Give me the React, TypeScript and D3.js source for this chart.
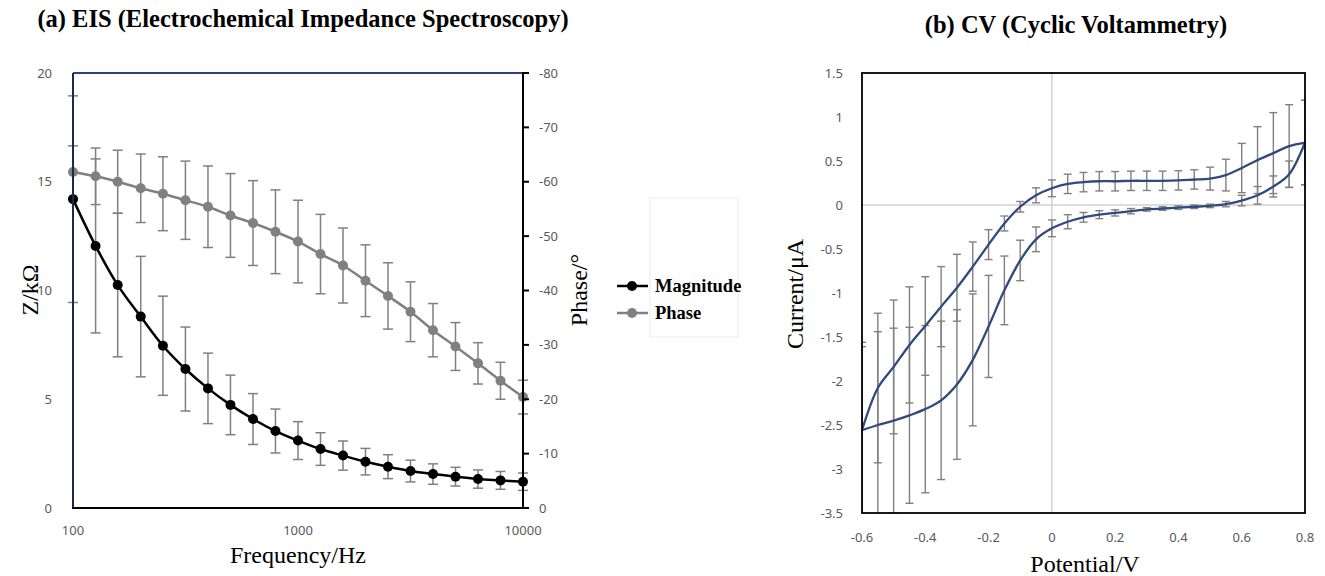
import React from "react";
import * as d3 from "d3";

// EIS data (5 points per decade)
const freqs = [100, 126, 158, 200, 251, 316, 398, 501, 631, 794, 1000, 1259, 1585, 1995, 2512, 3162, 3981, 5012, 6310, 7943, 10000];
const magnitude = [14.2, 12.05, 10.25, 8.8, 7.46, 6.39, 5.5, 4.74, 4.09, 3.54, 3.1, 2.71, 2.41, 2.13, 1.9, 1.7, 1.56, 1.44, 1.33, 1.27, 1.21];
const magnitudeErr = [4.75, 4.0, 3.3, 2.77, 2.28, 1.93, 1.62, 1.37, 1.17, 1.01, 0.87, 0.75, 0.67, 0.61, 0.55, 0.5, 0.47, 0.43, 0.42, 0.41, 0.4];
const phase = [-61.8, -61.0, -60.0, -58.8, -57.8, -56.6, -55.4, -53.8, -52.4, -50.8, -49.0, -46.7, -44.6, -41.8, -39.0, -36.1, -32.7, -29.7, -26.6, -23.4, -20.4];
const phaseErr = [4.8, 5.2, 5.8, 6.3, 6.8, 7.2, 7.5, 7.7, 7.8, 7.7, 7.6, 7.3, 6.9, 6.6, 6.1, 5.5, 4.9, 4.4, 3.8, 3.4, 3.1];
const zTicks = [0, 5, 10, 15, 20];
const phaseTicks = [0, -10, -20, -30, -40, -50, -60, -70, -80];
const freqTicks = [100, 1000, 10000];

// CV data
const potentials = [-0.6, -0.55, -0.5, -0.45, -0.4, -0.35, -0.3, -0.25, -0.2, -0.15, -0.1, -0.05, 0, 0.05, 0.1, 0.15, 0.2, 0.25, 0.3, 0.35, 0.4, 0.45, 0.5, 0.55, 0.6, 0.65, 0.7, 0.75, 0.8];
const forwardCurrent = [-2.56, -2.08, -1.84, -1.59, -1.375, -1.155, -0.94, -0.7, -0.45, -0.21, -0.02, 0.11, 0.19, 0.24, 0.26, 0.27, 0.27, 0.275, 0.275, 0.275, 0.28, 0.29, 0.3, 0.34, 0.42, 0.51, 0.59, 0.67, 0.71];
const forwardErr = [0.95, 0.85, 0.76, 0.66, 0.56, 0.455, 0.38, 0.28, 0.17, 0.085, 0.06, 0.085, 0.095, 0.11, 0.11, 0.11, 0.11, 0.11, 0.11, 0.11, 0.11, 0.11, 0.13, 0.18, 0.28, 0.38, 0.46, 0.47, 0.48];
const reverseCurrent = [-2.56, -2.5, -2.45, -2.39, -2.32, -2.22, -2.04, -1.76, -1.38, -0.97, -0.63, -0.39, -0.265, -0.19, -0.14, -0.11, -0.09, -0.07, -0.05, -0.04, -0.03, -0.02, -0.01, 0.01, 0.05, 0.11, 0.21, 0.35, 0.71];
const reverseErr = [1.0, 1.06, 1.05, 1.0, 0.95, 0.9, 0.85, 0.75, 0.58, 0.39, 0.23, 0.14, 0.095, 0.08, 0.055, 0.045, 0.035, 0.03, 0.02, 0.02, 0.02, 0.02, 0.02, 0.03, 0.06, 0.1, 0.12, 0.15, 0.48];
const currentTicks = [1.5, 1, 0.5, 0, -0.5, -1, -1.5, -2, -2.5, -3, -3.5];
const potentialTicks = [-0.6, -0.4, -0.2, 0, 0.2, 0.4, 0.6, 0.8];

const tickFont = "'Noto Sans', 'Open Sans', sans-serif";
const serif = "'Liberation Serif', 'Times New Roman', serif";
const tickColor = "#595959";
const errColor = "#808080";
const cvColor = "#2f4a7c";

const EisChart = () => {
  const x = d3.scaleLog().domain([100, 10000]).range([73, 523]);
  const yZ = d3.scaleLinear().domain([0, 20]).range([508, 73]);
  const yP = d3.scaleLinear().domain([0, -80]).range([508, 73]);
  const smooth = d3.line<[number, number]>().curve(d3.curveCatmullRom);

  const magPts = freqs.map((f, i) => [x(f), yZ(magnitude[i])] as [number, number]);
  const phasePts = freqs.map((f, i) => [x(f), yP(phase[i])] as [number, number]);

  const cap = 5;
  return (
    <g>
      <text x={303} y={27} textAnchor="middle" fontFamily={serif} fontWeight="bold" fontSize={24.5}>
        (a) EIS (Electrochemical Impedance Spectroscopy)
      </text>

      {/* phase error bars */}
      {freqs.map((f, i) => {
        const cx = x(f);
        const t = yP(phase[i] - phaseErr[i]);
        const b = yP(phase[i] + phaseErr[i]);
        return (
          <g key={"pe" + i} stroke={errColor} strokeWidth={1.5}>
            <line x1={cx} x2={cx} y1={t} y2={b} />
            <line x1={cx - cap} x2={cx + cap} y1={t} y2={t} />
            <line x1={cx - cap} x2={cx + cap} y1={b} y2={b} />
          </g>
        );
      })}
      {/* magnitude error bars */}
      {freqs.map((f, i) => {
        const cx = x(f);
        const t = yZ(magnitude[i] + magnitudeErr[i]);
        const b = yZ(magnitude[i] - magnitudeErr[i]);
        return (
          <g key={"me" + i} stroke={errColor} strokeWidth={1.5}>
            <line x1={cx} x2={cx} y1={t} y2={b} />
            <line x1={cx - cap} x2={cx + cap} y1={t} y2={t} />
            <line x1={cx - cap} x2={cx + cap} y1={b} y2={b} />
          </g>
        );
      })}

      <path d={smooth(phasePts) || ""} fill="none" stroke="#808080" strokeWidth={2.5} />
      {phasePts.map((p, i) => (
        <circle key={"pp" + i} cx={p[0]} cy={p[1]} r={5} fill="#808080" />
      ))}
      <path d={smooth(magPts) || ""} fill="none" stroke="#000" strokeWidth={2.5} />
      {magPts.map((p, i) => (
        <circle key={"mp" + i} cx={p[0]} cy={p[1]} r={5} fill="#000" />
      ))}

      {/* frame */}
      <line x1={73} x2={523} y1={73} y2={73} stroke="#2b4474" strokeWidth={2} />
      <line x1={73} x2={73} y1={73} y2={508} stroke="#1c2a48" strokeWidth={2} />
      <line x1={72} x2={524} y1={508} y2={508} stroke="#000" strokeWidth={2} />
      <line x1={523} x2={523} y1={72} y2={509} stroke="#000" strokeWidth={2} />

      {zTicks.map((t) => (
        <text key={"zt" + t} x={52} y={yZ(t)} dy="0.35em" textAnchor="end" fontFamily={tickFont} fontSize={13} fill={tickColor}>
          {t}
        </text>
      ))}
      {phaseTicks.map((t) => (
        <g key={"pt" + t}>
          <line x1={523} x2={529} y1={yP(t)} y2={yP(t)} stroke="#000" strokeWidth={2} />
          <text x={539} y={yP(t)} dy="0.35em" fontFamily={tickFont} fontSize={13} fill={tickColor}>
            {t}
          </text>
        </g>
      ))}
      {freqTicks.map((t) => (
        <text key={"ft" + t} x={x(t)} y={530} dy="0.35em" textAnchor="middle" fontFamily={tickFont} fontSize={13} fill={tickColor}>
          {t}
        </text>
      ))}

      <text x={298} y={563} textAnchor="middle" fontFamily={serif} fontSize={24}>Frequency/Hz</text>
      <text transform="translate(38,290) rotate(-90)" textAnchor="middle" fontFamily={serif} fontSize={24}>Z/kΩ</text>
      <text transform="translate(587,290) rotate(-90)" textAnchor="middle" fontFamily={serif} fontSize={24}>Phase/°</text>

      {/* legend */}
      <rect x={650} y={198} width={88} height={139} fill="#fff" stroke="#ececec" strokeWidth={1} />
      <line x1={617} x2={648} y1={286} y2={286} stroke="#000" strokeWidth={2.5} />
      <circle cx={632} cy={286} r={5} fill="#000" />
      <text x={655} y={292} fontFamily={serif} fontWeight="bold" fontSize={18.5}>Magnitude</text>
      <line x1={617} x2={648} y1={313} y2={313} stroke="#808080" strokeWidth={2.5} />
      <circle cx={632} cy={313} r={5} fill="#808080" />
      <text x={655} y={319} fontFamily={serif} fontWeight="bold" fontSize={18.5}>Phase</text>
    </g>
  );
};

const CvChart = () => {
  const x = d3.scaleLinear().domain([-0.6, 0.8]).range([862, 1305]);
  const y = d3.scaleLinear().domain([-3.5, 1.5]).range([513, 73]);
  const smooth = d3.line<[number, number]>().curve(d3.curveCatmullRom);
  const fwd = potentials.map((p, i) => [x(p), y(forwardCurrent[i])] as [number, number]);
  const rev = potentials.map((p, i) => [x(p), y(reverseCurrent[i])] as [number, number]);
  const cap = 4;

  const bars = (vals: number[], errs: number[], key: string) =>
    potentials.map((p, i) => {
      const cx = x(p);
      const t = y(vals[i] + errs[i]);
      const b = y(vals[i] - errs[i]);
      return (
        <g key={key + i} stroke={errColor} strokeWidth={1.4}>
          <line x1={cx} x2={cx} y1={t} y2={b} />
          <line x1={cx - cap} x2={cx + cap} y1={t} y2={t} />
          <line x1={cx - cap} x2={cx + cap} y1={b} y2={b} />
        </g>
      );
    });

  return (
    <g>
      <defs>
        <clipPath id="cvclip">
          <rect x={862} y={73} width={443} height={440} />
        </clipPath>
      </defs>
      <text x={1076} y={33} textAnchor="middle" fontFamily={serif} fontWeight="bold" fontSize={24.5}>
        (b) CV (Cyclic Voltammetry)
      </text>

      <line x1={862} x2={1305} y1={y(0)} y2={y(0)} stroke="#d0d0d0" strokeWidth={1.5} />
      <line x1={x(0)} x2={x(0)} y1={73} y2={513} stroke="#d0d0d0" strokeWidth={1.5} />

      <g clipPath="url(#cvclip)">
        {bars(forwardCurrent, forwardErr, "fe")}
        {bars(reverseCurrent, reverseErr, "re")}
      </g>
      <path d={smooth(fwd) || ""} fill="none" stroke={cvColor} strokeWidth={2.3} />
      <path d={smooth(rev) || ""} fill="none" stroke={cvColor} strokeWidth={2.3} />

      <rect x={862} y={73} width={443} height={440} fill="none" stroke="#000" strokeWidth={1.8} />

      {currentTicks.map((t) => (
        <text key={"ct" + t} x={843} y={y(t)} dy="0.35em" textAnchor="end" fontFamily={tickFont} fontSize={13} fill={tickColor}>
          {t}
        </text>
      ))}
      {potentialTicks.map((t) => (
        <text key={"vt" + t} x={x(t)} y={537} dy="0.35em" textAnchor="middle" fontFamily={tickFont} fontSize={13} fill={tickColor}>
          {t}
        </text>
      ))}

      <text x={1085} y={572} textAnchor="middle" fontFamily={serif} fontSize={24}>Potential/V</text>
      <text transform="translate(803,294) rotate(-90)" textAnchor="middle" fontFamily={serif} fontSize={24}>Current/μA</text>
    </g>
  );
};

export default function App() {
  return (
    <svg width={1325} height={576} style={{ position: "absolute", left: 0, top: 0, background: "#fff" }}>
      <rect width={1325} height={576} fill="#fff" />
      <EisChart />
      <CvChart />
    </svg>
  );
}
